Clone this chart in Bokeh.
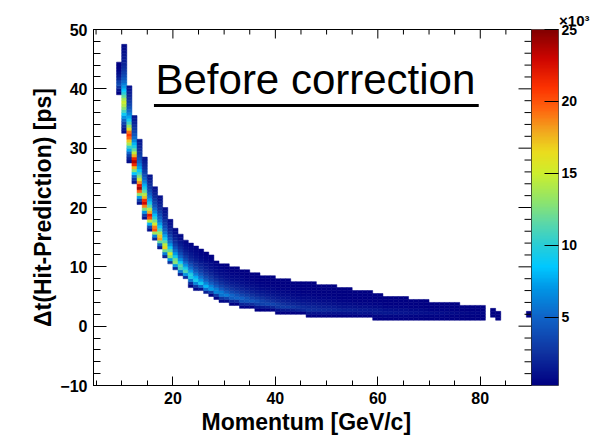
import numpy as np
from bokeh.plotting import figure
from bokeh.models import (ColumnDataSource, LinearColorMapper, ColorBar, FixedTicker,
                          Range1d, Label, SingleIntervalTicker, Title)
from bokeh.embed import file_html
from bokeh.resources import INLINE

# ---------------- data ----------------
# momentum bin left edges [GeV/c], bins are 1 GeV/c wide
p_lo = [9, 10, 11, 12, 13, 14, 15, 16, 17, 18, 19, 20, 21, 22, 23, 24, 25, 26, 27, 28,
        29, 30, 31, 32, 33, 34, 35, 36, 37, 38, 39, 40, 41, 42, 43, 44, 45, 46, 47, 48,
        49, 50, 51, 52, 53, 54, 55, 56, 57, 58, 59, 60, 61, 62, 63, 64, 65, 66, 67, 68,
        69, 70, 71, 72, 73, 74, 75, 76, 77, 78, 79, 80, 82, 83, 89]
# lower edge of the populated band in each momentum bin [ps]
band_bottom = [39.0, 32.5, 27.7, 24.1, 20.7, 18.2, 16.2, 14.5, 13.1, 11.4, 10.3, 9.4, 8.4, 7.8, 6.7, 6.1, 6.0, 5.3, 5.2, 4.6,
               4.0, 4.0, 3.6, 3.6, 3.0, 3.0, 3.0, 2.6, 2.6, 2.6, 2.5, 2.1, 2.1, 2.1, 2.1, 2.0, 2.0, 1.5, 1.5, 1.5,
               1.5, 1.5, 1.5, 1.5, 1.5, 1.5, 1.5, 1.5, 1.5, 1.5, 1.0, 1.0, 1.0, 1.0, 1.0, 1.0, 1.0, 1.0, 1.0, 1.0,
               1.0, 1.0, 1.0, 1.0, 1.0, 1.0, 1.0, 1.0, 1.0, 1.0, 1.0, 1.0, 1.5, 1.0, 1.5]
# most probable Delta t in each momentum bin [ps]
band_peak = [41.0, 38.0, 32.5, 28.0, 23.5, 21.0, 18.7, 16.5, 15.0, 13.4, 12.2, 11.0, 10.1, 9.4, 8.6, 7.9, 7.3, 6.8, 6.4, 6.0,
             5.6, 5.3, 5.1, 4.9, 4.7, 4.5, 4.35, 4.2, 4.05, 3.9, 3.75, 3.6, 3.4, 3.3, 3.2, 3.1, 3.0, 2.9, 2.9, 2.9,
             2.8, 2.8, 2.8, 2.7, 2.7, 2.7, 2.7, 2.6, 2.6, 2.6, 2.6, 2.6, 2.5, 2.5, 2.5, 2.5, 2.5, 2.5, 2.5, 2.5,
             2.4, 2.4, 2.4, 2.4, 2.4, 2.4, 2.4, 2.3, 2.3, 2.3, 2.3, 2.3, 2.2, 2.2, 2.0]
# upper edge of the populated band [ps]
band_top = [44.4, 47.3, 40.6, 35.5, 31.5, 28.5, 25.6, 23.6, 22.0, 20.1, 18.0, 16.5, 15.6, 14.5, 13.9, 13.4, 12.9, 12.3, 11.8, 11.1,
            10.7, 10.3, 10.0, 9.8, 9.6, 9.3, 9.1, 8.9, 8.6, 8.4, 8.3, 8.1, 8.1, 8.1, 7.6, 7.6, 7.6, 7.6, 7.6, 7.1,
            7.1, 7.1, 7.1, 6.6, 6.6, 6.6, 6.1, 6.1, 6.1, 6.1, 5.6, 5.6, 5.1, 5.1, 5.1, 5.1, 5.1, 4.6, 4.6, 4.6,
            4.6, 4.1, 4.1, 4.1, 4.1, 4.1, 4.1, 3.6, 3.6, 3.6, 3.6, 3.6, 3.1, 2.6, 2.4]
# entries in the most populated cell of each momentum bin
peak_counts = [4000, 15000, 21000, 24000, 24500, 23500, 22500, 21000, 19000, 17000, 15500, 14000, 12500, 11500, 10500, 9500, 9000, 8200, 7500, 7000,
               6500, 6000, 5500, 5200, 4900, 4600, 4300, 4000, 3800, 3600, 3400, 3200, 3000, 2900, 2800, 2700, 2600, 2500, 2400, 2300,
               2200, 2100, 2000, 1900, 1850, 1800, 1750, 1700, 1650, 1600, 1550, 1500, 1450, 1400, 1350, 1300, 1250, 1200, 1150, 1100,
               1050, 1000, 950, 900, 850, 800, 760, 720, 680, 640, 600, 580, 420, 380, 320]

x_major_ticks = [20, 40, 60, 80]
x_minor_ticks = [5, 10, 15, 25, 30, 35, 45, 50, 55, 65, 70, 75, 85]
y_major_ticks = [0, 10, 20, 30, 40]
y_minor_ticks = [-8, -6, -4, -2, 2, 4, 6, 8, 12, 14, 16, 18, 22, 24, 26, 28, 32, 34, 36, 38, 42, 44, 46, 48]
z_tick_values = [5000, 10000, 15000, 20000, 25000]
z_tick_labels = ["5", "10", "15", "20", "25"]
z_low, z_high = 260, 25000
X0, X1, Y0, Y1 = 4.5, 90.0, -10.0, 50.0

# ---------------- build the 2D histogram cells ----------------
dy = 0.5
y_edges = np.arange(-10.0, 50.0, dy)
L, R, B, T, C = [], [], [], [], []
for pl, bot, pk, top, n in zip(p_lo, band_bottom, band_peak, band_top, peak_counts):
    s_lo = max((pk - bot) / 2.5, 0.35)
    lam = max((top - pk) / 3.0, 0.35)
    for y0 in y_edges:
        yc = y0 + dy / 2
        if yc < bot - 0.01 or yc > top + 0.01:
            continue
        if yc <= pk:
            w = np.exp(-0.5 * ((yc - pk) / s_lo) ** 2)
        else:
            w = np.exp(-(yc - pk) / lam)
        L.append(pl); R.append(pl + 1); B.append(y0); T.append(y0 + dy); C.append(n * w)

src = ColumnDataSource(dict(left=L, right=R, bottom=B, top=T, count=C))

# ---------------- palette (ROOT-like rainbow) ----------------
stop_k = [0.26, 2.5, 5.0, 7.0, 8.5, 10.0, 11.5, 13.0, 15.0, 16.5, 18.0, 19.5, 21.0, 23.0, 25.0]
stop_rgb = [(0, 0, 130), (15, 50, 160), (15, 100, 200), (0, 150, 230), (0, 200, 255),
            (40, 205, 215), (90, 215, 170), (140, 228, 110), (205, 238, 45), (235, 220, 30),
            (242, 165, 30), (255, 100, 15), (252, 50, 0), (205, 5, 0), (130, 0, 0)]
grid = np.linspace(stop_k[0], stop_k[-1], 256)
palette = []
for g in grid:
    rgb = [int(round(np.interp(g, stop_k, [c[i] for c in stop_rgb]))) for i in range(3)]
    palette.append("#%02x%02x%02x" % tuple(rgb))

mapper = LinearColorMapper(palette=palette, low=z_low, high=z_high)

# ---------------- figure ----------------
FONT = "Liberation Sans"
W, H = 604, 437
BL, BR, BT, BB = 93, 73, 29, 52
p = figure(width=W, height=H, x_range=Range1d(X0, X1), y_range=Range1d(Y0, Y1),
           output_backend="svg", toolbar_location=None,
           min_border_left=BL, min_border_right=BR, min_border_top=BT, min_border_bottom=BB)
p.background_fill_color = "white"
p.border_fill_color = "white"
p.outline_line_color = "black"
p.outline_line_width = 1
p.xgrid.grid_line_color = None
p.ygrid.grid_line_color = None

p.quad(left="left", right="right", bottom="bottom", top="top", source=src,
       fill_color={"field": "count", "transform": mapper},
       line_color={"field": "count", "transform": mapper}, line_width=0.5)

for ax, tick_len, minor_len, ticker in (
        (p.xaxis[0], 9, 5, SingleIntervalTicker(interval=20, num_minor_ticks=4)),
        (p.yaxis[0], 13, 7, SingleIntervalTicker(interval=10, num_minor_ticks=5))):
    ax.ticker = ticker
    ax.major_tick_in = tick_len
    ax.major_tick_out = 0
    ax.minor_tick_in = minor_len
    ax.minor_tick_out = 0
    ax.axis_line_color = "black"
    ax.major_tick_line_color = "black"
    ax.minor_tick_line_color = "black"
    ax.major_label_text_font = FONT
    ax.major_label_text_font_style = "bold"
    ax.major_label_text_color = "black"
    ax.major_label_text_font_size = "16px"
    ax.major_label_standoff = 6

# ticks on the top and right frame edges (inward), length in pixels -> data units
px_x = (W - BL - BR) / (X1 - X0)
px_y = (H - BT - BB) / (Y1 - Y0)
top_len = {9: x_major_ticks, 5: x_minor_ticks}
for ln, vals in top_len.items():
    p.segment(x0=vals, x1=vals, y0=[Y1] * len(vals), y1=[Y1 - ln / px_y] * len(vals),
              line_color="black", line_width=1)
right_len = {13: y_major_ticks, 7: y_minor_ticks}
for ln, vals in right_len.items():
    p.segment(x0=[X1] * len(vals), x1=[X1 - ln / px_x] * len(vals), y0=vals, y1=vals,
              line_color="black", line_width=1)

cb = ColorBar(color_mapper=mapper, ticker=FixedTicker(ticks=z_tick_values),
              major_label_overrides={v: s for v, s in zip(z_tick_values, z_tick_labels)},
              width=27, margin=2, padding=0, major_tick_in=14, major_tick_out=0,
              major_tick_line_color="black", minor_tick_line_color=None,
              label_standoff=3, major_label_text_font=FONT,
              major_label_text_font_style="bold", major_label_text_font_size="14px",
              major_label_text_color="black", bar_line_color="black", bar_line_width=0.5,
              border_line_color=None)
p.add_layout(cb, "right")

# axis titles
p.add_layout(Title(text="Momentum [GeV/c]", align="left", offset=108, standoff=0,
                   text_font=FONT, text_font_style="bold", text_font_size="23px",
                   text_color="black"), "below")
p.add_layout(Title(text="\u0394t(Hit-Prediction) [ps]", align="center", offset=-23, standoff=4,
                   text_font=FONT, text_font_style="bold", text_font_size="23px",
                   text_color="black"), "left")
p.add_layout(Title(text="\u00d710\u00b3", align="right", offset=-58, standoff=1,
                   text_font=FONT, text_font_style="bold", text_font_size="15px",
                   text_color="black"), "above")

# in-frame title with underline
title_x, title_y = 16.6, 41.6
p.add_layout(Label(x=title_x, y=title_y, text="Before correction", text_font=FONT,
                   text_font_size="42px", text_align="left", text_baseline="alphabetic",
                   text_color="black"))
p.segment(x0=[title_x - 0.3], y0=[37.2], x1=[79.7], y1=[37.2], line_color="black", line_width=3)

open("out.html", "w").write(file_html(p, INLINE))
